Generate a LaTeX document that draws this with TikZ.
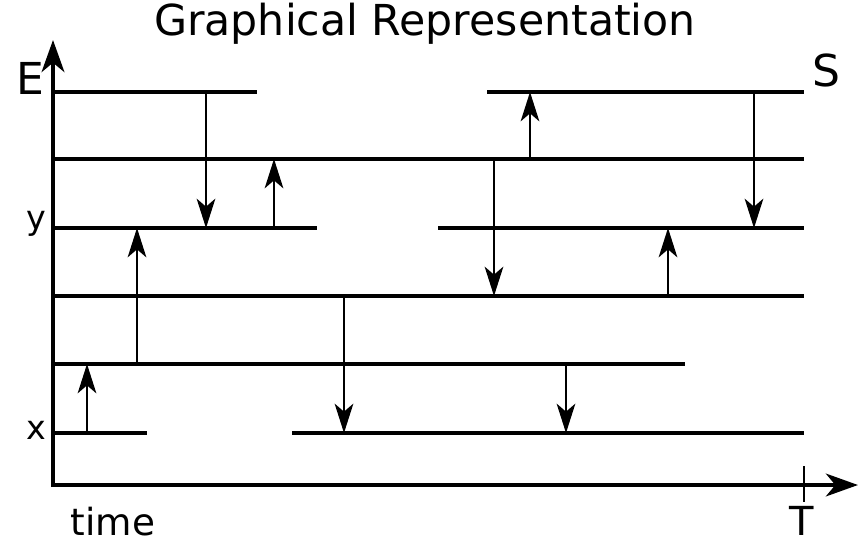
\documentclass[tikz,border=0pt]{standalone}
\usepackage{fontspec}
\setmainfont{DejaVu Sans}
\usetikzlibrary{arrows.meta}

\tikzset{
  level/.style={line width=3.3pt},
  hop/.style={line width=1.5pt,-{Stealth[length=22pt,width=14pt,inset=6pt]}},
  axis/.style={line width=3.3pt,-{Stealth[length=24pt,width=17pt,inset=7pt]}}
}

\begin{document}
\begin{tikzpicture}[x=0.75pt,y=-0.75pt]
\useasboundingbox (0,0) rectangle (858,547);
% axes
\draw[axis] (53,487) -- (53,40);
\draw[axis] (51,485) -- (858,485);
\draw[line width=1.5pt] (804,466) -- (804,502);
% energy levels
\draw[level] (53,92) -- (257,92);
\draw[level] (487,92) -- (804,92);
\draw[level] (53,159) -- (804,159);
\draw[level] (53,228) -- (317,228);
\draw[level] (438,228) -- (804,228);
\draw[level] (53,296) -- (804,296);
\draw[level] (53,364) -- (685,364);
\draw[level] (53,433) -- (147,433);
\draw[level] (292,433) -- (804,433);
% transitions
\foreach \xx/\ya/\yb in {87/433/364, 137/364/228, 206/92/228, 274/228/159,
  344/296/433, 494/159/296, 530/159/92, 566/364/433, 668/296/228, 754/92/228}
  \draw[hop] (\xx,\ya) -- (\xx,\yb);
% labels
\node[font=\fontsize{32}{34}\selectfont] (title) at (425,24) {Graphical Representation};
\node[font=\fontsize{33}{35}\selectfont] (E) at (30,78) {E};
\node[font=\fontsize{33}{35}\selectfont] (S) at (826,70) {S};
\node[font=\fontsize{25}{27}\selectfont] (ylab) at (36,224) {y};
\node[font=\fontsize{25}{27}\selectfont] (xlab) at (36,430) {x};
\node[font=\fontsize{28}{30}\selectfont] (time) at (113,522) {time};
\node[font=\fontsize{30}{32}\selectfont] (T) at (802,521) {T};
\end{tikzpicture}
\end{document}
